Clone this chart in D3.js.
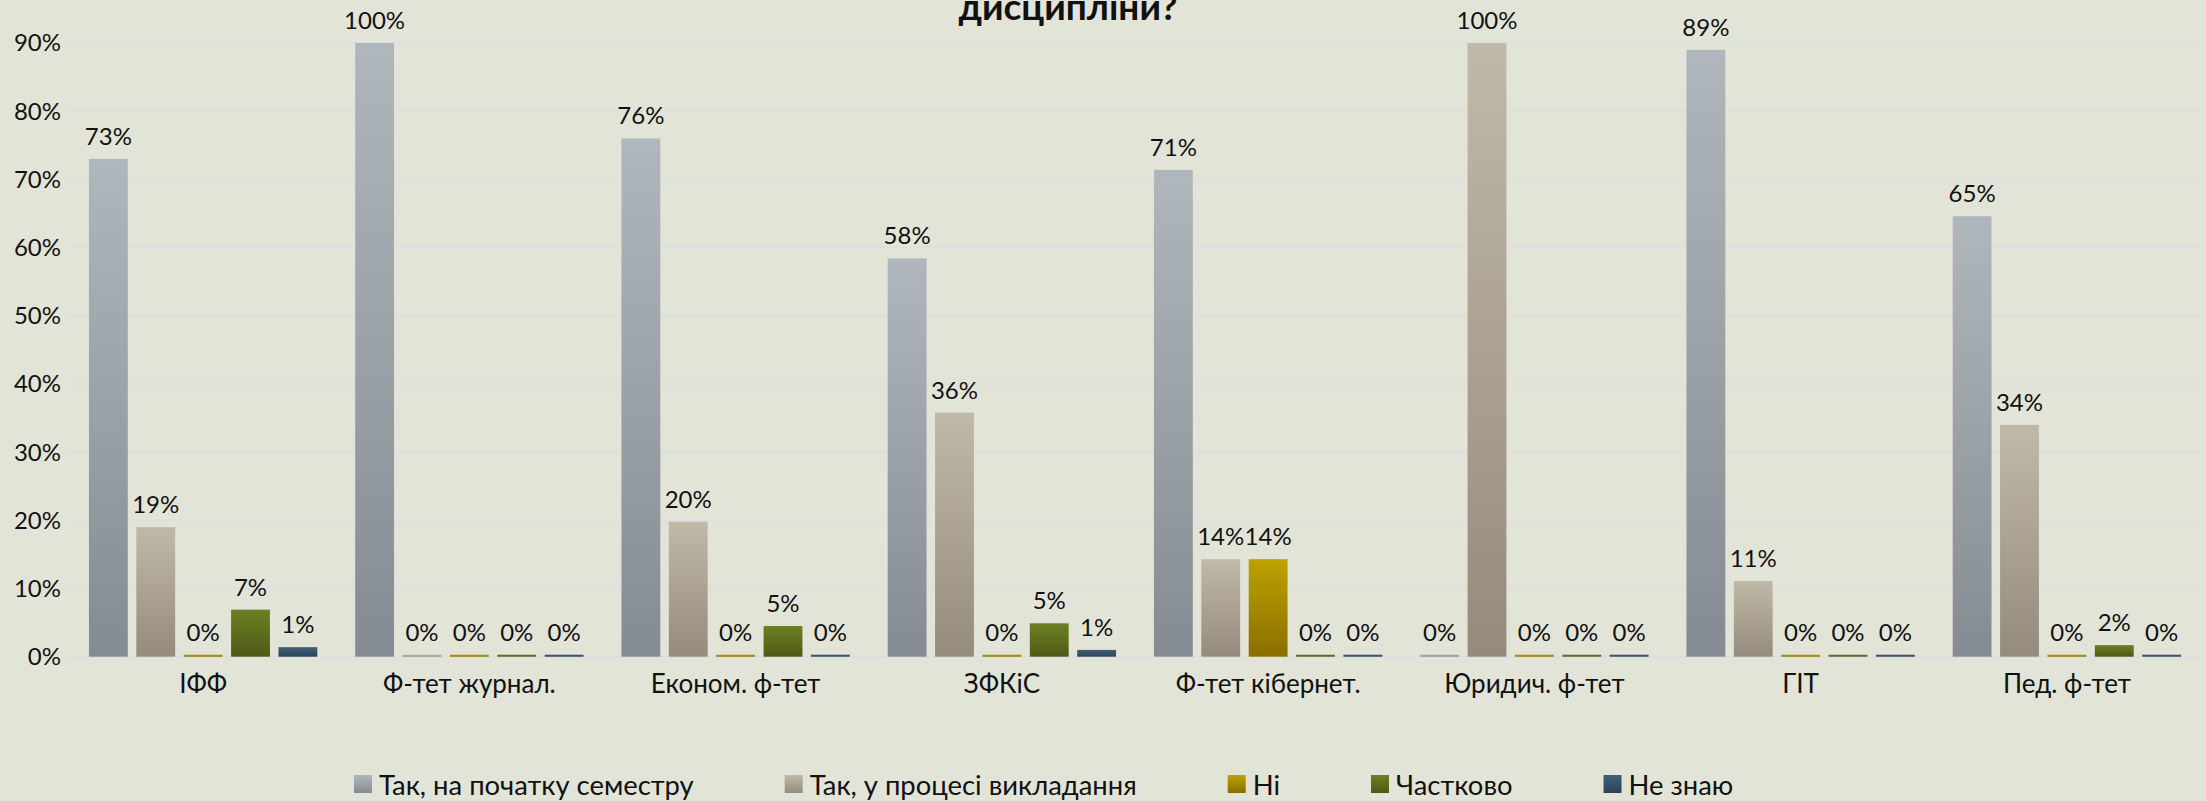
<!DOCTYPE html>
<html lang="uk">
<head>
  <meta charset="UTF-8">
  <title>дисципліни?</title>
  <script src="https://d3js.org/d3.v7.min.js"></script>
  <style>
    body { margin: 0; background: #e3e4d8; }
    text { font-family: Lato, "Open Sans", sans-serif; fill: #111; }
  </style>
</head>
<body>
  <div class="canvas"></div>
  <script>
    const categories = ['ІФФ', 'Ф-тет журнал.', 'Економ. ф-тет', 'ЗФКіС', 'Ф-тет кібернет.', 'Юридич. ф-тет', 'ГІТ', 'Пед. ф-тет'];
    const seriesNames = ['Так, на початку семестру', 'Так, у процесі викладання', 'Ні', 'Частково', 'Не знаю'];

    // values per series, in %
    const atStart    = [73, 100, 76, 58.4, 71.4, 0, 89, 64.6];
    const inProcess  = [19, 0, 19.8, 35.8, 14.3, 100, 11.1, 34];
    const no         = [0, 0, 0, 0, 14.3, 0, 0, 0];
    const partly     = [6.9, 0, 4.5, 4.9, 0, 0, 0, 1.7];
    const dontKnow   = [1.4, 0, 0, 1, 0, 0, 0, 0];
    const seriesValues = [atStart, inProcess, no, partly, dontKnow];

    const yTicks = [0, 10, 20, 30, 40, 50, 60, 70, 80, 90];
    const title = 'дисципліни?';

    // top / bottom colours of each series gradient
    const colors = [
      ['#afb7bc', '#858b92'],
      ['#c1b9a7', '#958b7d'],
      ['#bda200', '#8a6e00'],
      ['#6d8022', '#4d5a16'],
      ['#41617c', '#2b4256']
    ];

    const W = 2206, H = 801;
    const svg = d3.select('.canvas')
      .append('svg')
      .attr('width', W)
      .attr('height', H);

    const defs = svg.append('defs');
    colors.forEach((c, i) => {
      const lg = defs.append('linearGradient')
        .attr('id', 'grad' + i)
        .attr('x1', 0).attr('y1', 0).attr('x2', 0).attr('y2', 1);
      lg.append('stop').attr('offset', '0%').attr('stop-color', c[0]);
      lg.append('stop').attr('offset', '100%').attr('stop-color', c[1]);
    });

    const x0 = d3.scaleBand()
      .domain(categories)
      .range([70, 2200]);

    const x1 = d3.scaleBand()
      .domain(d3.range(seriesNames.length))
      .range([0, x0.bandwidth()])
      .paddingInner(0.18)
      .paddingOuter(0.4);

    const y = d3.scaleLinear()
      .domain([0, 90])
      .range([656.7, 43])
      .clamp(true);

    // gridlines
    svg.append('g')
      .selectAll('line')
      .data(yTicks)
      .enter()
      .append('line')
      .attr('x1', 68)
      .attr('x2', 2200)
      .attr('y1', d => y(d))
      .attr('y2', d => y(d))
      .attr('stroke', '#dcdfdf')
      .attr('stroke-width', 2);

    // y axis labels
    svg.append('g')
      .selectAll('text')
      .data(yTicks)
      .enter()
      .append('text')
      .attr('x', 61)
      .attr('y', d => y(d))
      .attr('dy', '0.35em')
      .attr('text-anchor', 'end')
      .style('font-size', '24px')
      .text(d => d + '%');

    const rows = [];
    categories.forEach((cat, ci) => {
      seriesValues.forEach((vals, si) => {
        rows.push({ cat: cat, s: si, v: vals[ci] });
      });
    });

    const groups = svg.append('g');
    groups.selectAll('rect')
      .data(rows)
      .enter()
      .append('rect')
      .attr('x', d => x0(d.cat) + x1(d.s))
      .attr('width', x1.bandwidth())
      .attr('y', d => Math.min(y(d.v), y(0) - 2))
      .attr('height', d => Math.max(y(0) - y(d.v), 2))
      .attr('fill', d => `url(#grad${d.s})`);

    groups.selectAll('text.lbl')
      .data(rows)
      .enter()
      .append('text')
      .attr('class', 'lbl')
      .attr('x', d => x0(d.cat) + x1(d.s) + x1.bandwidth() / 2)
      .attr('y', d => Math.min(y(d.v), y(0) - 2) - 14)
      .attr('text-anchor', 'middle')
      .style('font-size', '24px')
      .text(d => Math.round(d.v) + '%');

    // category labels
    svg.append('g')
      .selectAll('text')
      .data(categories)
      .enter()
      .append('text')
      .attr('x', d => x0(d) + x0.bandwidth() / 2)
      .attr('y', 693)
      .attr('text-anchor', 'middle')
      .style('font-size', '26px')
      .text(d => d);

    // title (cut off at the top, as in the original)
    svg.append('text')
      .attr('x', 1068)
      .attr('y', 20)
      .attr('text-anchor', 'middle')
      .style('font-size', '37px')
      .style('font-weight', 'bold')
      .text(title);

    // legend
    const legend = svg.append('g');
    let lx = 354;
    seriesNames.forEach((name, i) => {
      const item = legend.append('g').attr('transform', `translate(${lx}, 775)`);
      item.append('rect')
        .attr('width', 18)
        .attr('height', 18)
        .attr('fill', `url(#grad${i})`);
      const t = item.append('text')
        .attr('x', 25)
        .attr('y', 20)
        .style('font-size', '27.4px')
        .text(name);
      lx += 25 + t.node().getComputedTextLength() + 91;
    });
  </script>
</body>
</html>
